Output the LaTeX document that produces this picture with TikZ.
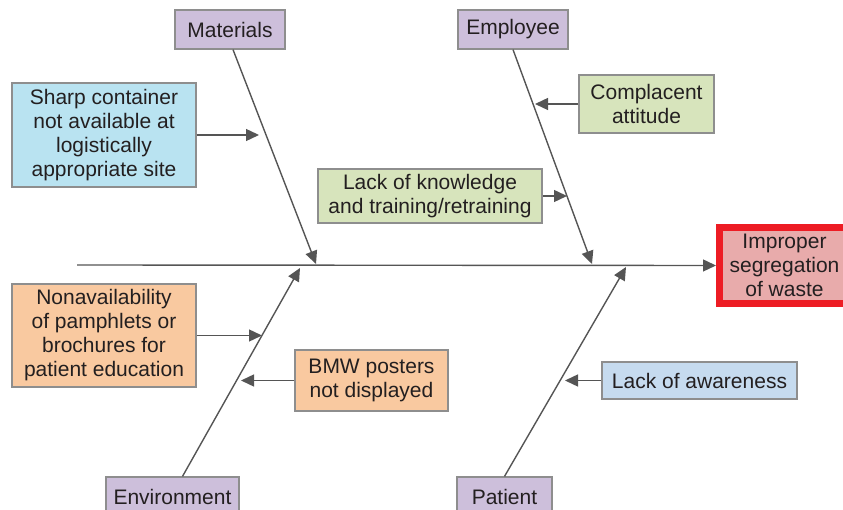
\documentclass[tikz,border=0pt]{standalone}
\usepackage{fontspec}
\setmainfont{Liberation Sans}
\usetikzlibrary{arrows.meta, positioning}
\definecolor{catpurple}{HTML}{CDBFDB}
\definecolor{sharpblue}{HTML}{B9E3F1}
\definecolor{empgreen}{HTML}{D7E4BC}
\definecolor{envorange}{HTML}{F9C9A0}
\definecolor{patblue}{HTML}{C6DBEF}
\definecolor{imppink}{HTML}{E8ABAB}
\definecolor{impred}{HTML}{ED1C24}
\definecolor{boxgray}{HTML}{8E8E8E}
\definecolor{linegray}{HTML}{555555}
\definecolor{txt}{HTML}{231F20}
\tikzset{
  cause/.style={draw=boxgray, line width=1.2pt, align=center, inner sep=1pt, text=txt, font=\fontsize{21}{24}\selectfont},
  category/.style={cause, fill=catpurple, minimum width=110pt, minimum height=39pt},
  bone/.style={draw=linegray, line width=1.4pt, -{Triangle[length=13pt,width=12pt]}},
}

\begin{document}
\begin{tikzpicture}[x=1pt,y=-1pt]
	\useasboundingbox (0,0) rectangle (843,510);
	\clip (0,0) rectangle (843,510);
	% effect
	\node[cause, draw=impred, line width=7pt, fill=imppink, minimum width=130pt, minimum height=76pt] (impr) at (784.5,265.5) {Improper\\segregation\\of waste};
	% categories
	\node[category] (mat) at (230,29.5) {Materials};
	\node[category] (emp) at (513,29.5) {Employee};
	\node[category, minimum width=133pt] (env) at (172.5,496.5) {Environment};
	\node[category, minimum width=95pt] (pat) at (504.5,496.5) {Patient};
	% causes
	\node[cause, fill=sharpblue, minimum width=184pt, minimum height=104pt] (sharp) at (104,135) {Sharp container\\not available at\\logistically\\appropriate site};
	\node[cause, fill=empgreen, minimum width=135pt, minimum height=58pt] (compl) at (646.5,104) {Complacent\\attitude};
	\node[cause, fill=empgreen, minimum width=224pt, minimum height=54pt] (know) at (430,196) {Lack of knowledge\\and training/retraining};
	\node[cause, fill=envorange, minimum width=184pt, minimum height=103pt] (nonav) at (104,335.5) {Nonavailability\\of pamphlets or\\brochures for\\patient education};
	\node[cause, fill=envorange, minimum width=153pt, minimum height=61pt] (bmw) at (371.5,380.5) {BMW posters\\not displayed};
	\node[cause, fill=patblue, minimum width=195pt, minimum height=37pt] (aware) at (699.5,380.5) {Lack of awareness};
	% spine and bones
	\coordinate (tail) at (77,265);
	\coordinate (mtip) at (316,264);
	\coordinate (etip) at (592,264);
	\coordinate (envtip) at (300,268);
	\coordinate (ptip) at (626,267);
	\draw[bone] (tail) -- (impr.west);
	\draw[bone] ([xshift=3pt]mat.south) -- (mtip);
	\draw[bone] (emp.south) -- (etip);
	\draw[bone] ([xshift=10pt]env.north) -- (envtip);
	\draw[bone] (pat.north) -- (ptip);
	% cause arrows
	\coordinate (sharptip) at (259,135);
	\coordinate (compltip) at (535,104);
	\coordinate (knowtip) at (567,196);
	\coordinate (nonavtip) at (262,335.5);
	\coordinate (bmwtip) at (241,380.5);
	\coordinate (awaretip) at (565,380.5);
	\draw[bone] (sharp.east) -- (sharptip);
	\draw[bone] (compl.west) -- (compltip);
	\draw[bone] (know.east) -- (knowtip);
	\draw[bone] (nonav.east) -- (nonavtip);
	\draw[bone] (bmw.west) -- (bmwtip);
	\draw[bone] (aware.west) -- (awaretip);
\end{tikzpicture}
\end{document}
